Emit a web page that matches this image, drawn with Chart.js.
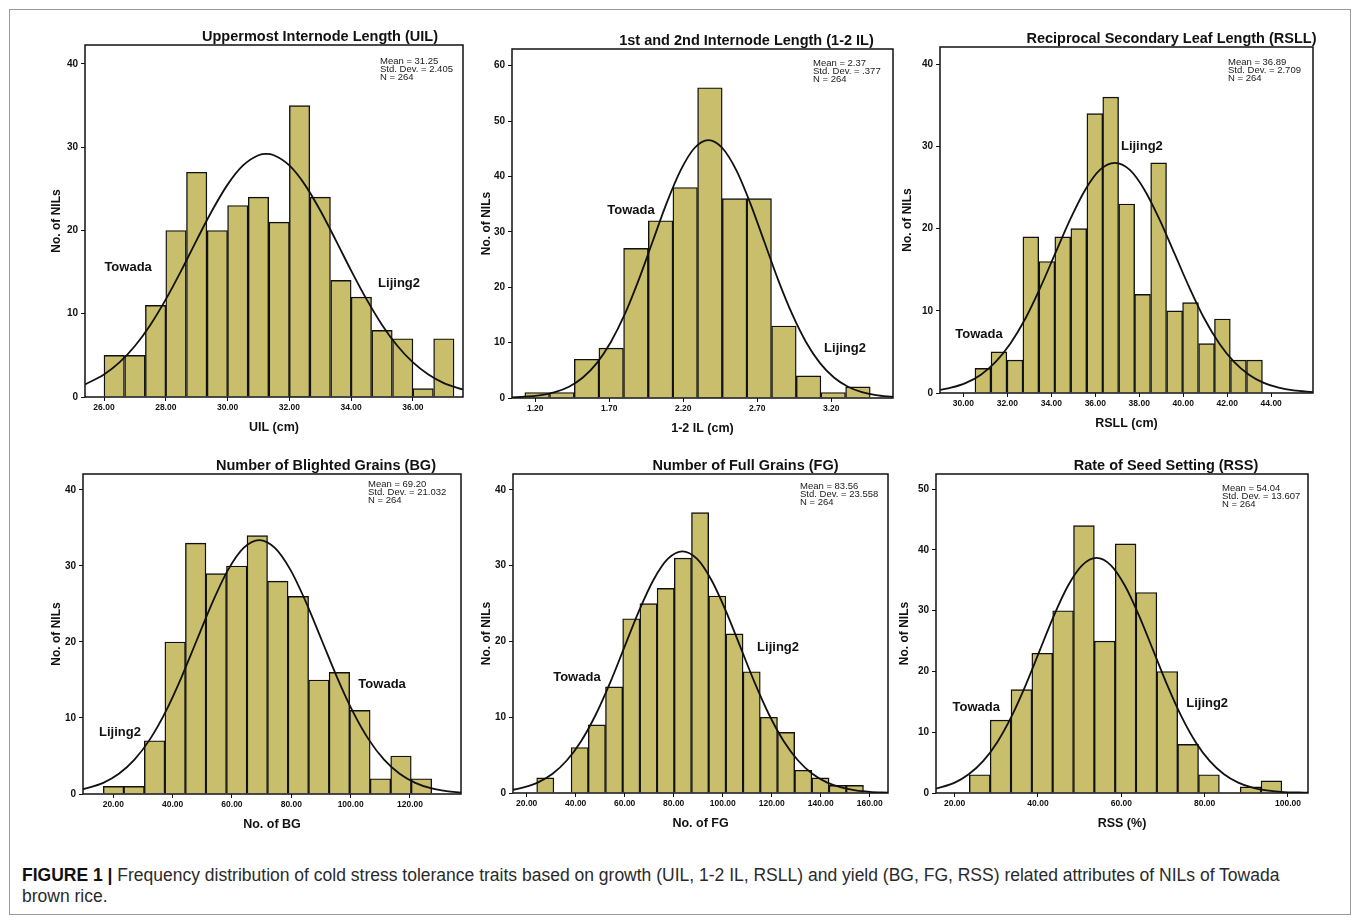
<!DOCTYPE html>
<html>
<head>
<meta charset="utf-8">
<script src="https://cdn.jsdelivr.net/npm/chart.js@4.4.1/dist/chart.umd.min.js"></script>
<style>
  html, body { margin: 0; padding: 0; background: #fff; }
  body { width: 1355px; height: 918px; position: relative; overflow: hidden;
         font-family: "Liberation Sans", Arial, sans-serif; }
  #border { position: absolute; left: 9px; top: 9px; width: 1342px; height: 906px;
            border: 1px solid #9a9a9a; box-sizing: border-box; }
  canvas.panel { position: absolute; }
  #caption { position: absolute; left: 22px; top: 865px; font-size: 17.5px; line-height: 21px; color: #2a2a2a; }
  #caption b { color: #111; }
</style>
</head>
<body>
<div id="border"></div>
<div id="caption"><b>FIGURE 1 |</b> Frequency distribution of cold stress tolerance traits based on growth (UIL, 1-2 IL, RSLL) and yield (BG, FG, RSS) related attributes of NILs of Towada<br>brown rice.</div>

<script>
// ---- data ----
// UIL
const uilBins = [26.33, 27.00, 27.67, 28.33, 29.00, 29.67, 30.33, 31.00, 31.67, 32.33, 33.00, 33.67, 34.33, 35.00, 35.67, 36.33, 37.00];
const uilCounts = [5, 5, 11, 20, 27, 20, 23, 24, 21, 35, 24, 14, 12, 8, 7, 1, 7];
const uilCurveX = [25.39, 26.0, 26.5, 27.0, 27.5, 28.0, 28.5, 29.0, 29.5, 30.0, 30.5, 31.0, 31.25, 31.5, 32.0, 32.5, 33.0, 33.5, 34.0, 34.5, 35.0, 35.5, 36.0, 36.5, 37.0, 37.62];
const uilCurveY = [1.52, 2.70, 4.15, 6.13, 8.66, 11.72, 15.18, 18.85, 22.40, 25.51, 27.81, 29.04, 29.2, 29.04, 27.81, 25.51, 22.40, 18.85, 15.18, 11.72, 8.66, 6.13, 4.15, 2.70, 1.67, 0.90];
const uilXTicks = [26, 28, 30, 32, 34, 36];
const uilYTicks = [0, 10, 20, 30, 40];

// 1-2 IL
const ilBins = [1.213, 1.380, 1.547, 1.713, 1.880, 2.047, 2.213, 2.380, 2.547, 2.713, 2.880, 3.047, 3.213, 3.380];
const ilCounts = [1, 1, 7, 9, 27, 32, 38, 56, 36, 36, 13, 4, 1, 2];
const ilCurveX = [1.043, 1.239, 1.333, 1.428, 1.522, 1.616, 1.710, 1.805, 1.899, 1.993, 2.087, 2.182, 2.276, 2.37, 2.464, 2.559, 2.653, 2.747, 2.841, 2.936, 3.030, 3.124, 3.218, 3.313, 3.407, 3.501, 3.617];
const ilCurveY = [0.09, 0.52, 1.06, 2.04, 3.71, 6.30, 10.07, 15.12, 21.32, 28.24, 35.14, 41.09, 45.13, 46.56, 45.13, 41.09, 35.14, 28.24, 21.32, 15.12, 10.07, 6.30, 3.71, 2.04, 1.06, 0.52, 0.19];
const ilXTicks = [1.2, 1.7, 2.2, 2.7, 3.2];
const ilYTicks = [0, 10, 20, 30, 40, 50, 60];

// RSLL
const rsllBins = [30.89, 31.62, 32.35, 33.07, 33.80, 34.52, 35.25, 35.98, 36.70, 37.43, 38.15, 38.88, 39.61, 40.33, 41.06, 41.78, 42.51, 43.24];
const rsllCounts = [3, 5, 4, 19, 16, 19, 20, 34, 36, 23, 12, 28, 10, 11, 6, 9, 4, 4];
const rsllCurveX = [28.95, 29.44, 30.12, 30.80, 31.47, 32.15, 32.83, 33.50, 34.18, 34.86, 35.54, 36.21, 36.89, 37.57, 38.24, 38.92, 39.60, 40.28, 40.95, 41.63, 42.31, 42.99, 43.66, 44.34, 45.02, 45.91];
const rsllCurveY = [0.38, 0.64, 1.23, 2.23, 3.79, 6.06, 9.09, 12.82, 16.98, 21.13, 24.71, 27.14, 28.0, 27.14, 24.71, 21.13, 16.98, 12.82, 9.09, 6.06, 3.79, 2.23, 1.23, 0.64, 0.31, 0.11];
const rsllXTicks = [30, 32, 34, 36, 38, 40, 42, 44];
const rsllYTicks = [0, 10, 20, 30, 40];

// BG
const bgBins = [20.09, 27.01, 33.93, 40.85, 47.77, 54.69, 61.61, 68.53, 75.45, 82.37, 89.29, 96.21, 103.13, 110.05, 116.97, 123.89];
const bgCounts = [1, 1, 7, 20, 33, 29, 30, 34, 28, 26, 15, 16, 11, 2, 5, 2];
const bgCurveX = [9.79, 16.62, 21.88, 27.14, 32.39, 37.65, 42.91, 48.17, 53.43, 58.68, 63.94, 69.2, 74.46, 79.72, 84.97, 90.23, 95.49, 100.75, 106.01, 111.26, 116.52, 121.78, 127.04, 132.3, 137.13];
const bgCurveY = [0.62, 1.47, 2.66, 4.52, 7.22, 10.84, 15.29, 20.26, 25.21, 29.48, 32.37, 33.4, 32.37, 29.48, 25.21, 20.26, 15.29, 10.84, 7.22, 4.52, 2.66, 1.47, 0.76, 0.37, 0.18];
const bgXTicks = [20, 40, 60, 80, 100, 120];
const bgYTicks = [0, 10, 20, 30, 40];

// FG
const fgBins = [27.59, 34.61, 41.63, 48.65, 55.67, 62.69, 69.71, 76.73, 83.75, 90.77, 97.79, 104.81, 111.83, 118.85, 125.87, 132.89, 139.91, 146.93, 153.95];
const fgCounts = [2, 0, 6, 9, 14, 23, 25, 27, 31, 37, 26, 21, 16, 10, 8, 3, 2, 1, 1];
const fgCurveX = [14.4, 18.77, 24.67, 30.55, 36.44, 42.33, 48.22, 54.11, 60.0, 65.89, 71.78, 77.67, 83.56, 89.45, 95.34, 101.23, 107.12, 113.01, 118.90, 124.79, 130.68, 136.57, 142.46, 148.35, 154.23, 160.12, 167.5];
const fgCurveY = [0.43, 0.73, 1.40, 2.54, 4.32, 6.90, 10.36, 14.60, 19.35, 24.08, 28.15, 30.92, 31.9, 30.92, 28.15, 24.08, 19.35, 14.60, 10.36, 6.90, 4.32, 2.54, 1.40, 0.73, 0.35, 0.16, 0.06];
const fgXTicks = [20, 40, 60, 80, 100, 120, 140, 160];
const fgYTicks = [0, 10, 20, 30, 40];

// RSS
const rssBins = [26.03, 31.03, 36.03, 41.03, 46.03, 51.03, 56.03, 61.03, 66.03, 71.03, 76.03, 81.03, 86.03, 91.03, 96.03];
const rssCounts = [3, 12, 17, 23, 30, 44, 25, 41, 33, 20, 8, 3, 0, 1, 2];
const rssCurveX = [15.53, 20.02, 23.38, 26.83, 30.23, 33.63, 37.03, 40.43, 43.83, 47.24, 50.64, 54.04, 57.44, 60.84, 64.25, 67.65, 71.05, 74.45, 77.85, 81.25, 84.65, 88.06, 91.46, 94.86, 98.26, 104.8];
const rssCurveY = [0.70, 1.70, 3.08, 5.24, 8.37, 12.57, 17.72, 23.47, 29.21, 34.15, 37.51, 38.7, 37.51, 34.15, 29.21, 23.47, 17.72, 12.57, 8.37, 5.24, 3.08, 1.70, 0.88, 0.43, 0.20, 0.04];
const rssXTicks = [20, 40, 60, 80, 100];
const rssYTicks = [0, 10, 20, 30, 40, 50];

// ---- layout ----
const PAD_L = 45, PAD_R = 16, PAD_T = 24, PAD_B = 42;
const BAR_FILL = "#c9be6c";
const INK = "#111";
const FONT = '"Liberation Sans", Arial, sans-serif';

Chart.defaults.font.family = FONT;
Chart.defaults.color = INK;

const panels = [
  { frame: [85, 45, 463, 397], xMin: 25.385, xMax: 37.62, yMax: 42.28,
    bins: uilBins, counts: uilCounts, cx: uilCurveX, cy: uilCurveY, xTicks: uilXTicks, yTicks: uilYTicks,
    title: "Uppermost Internode Length (UIL)", titleDx: 46, xTitle: "UIL (cm)", yGap: 28,
    stats: ["Mean = 31.25", "Std. Dev. = 2.405", "N = 264"], statsDx: 83, statsDy: 16,
    labels: [{ text: "Towada", x: 26.78, y: 15.6 }, { text: "Lijing2", x: 35.55, y: 13.7 }] },
  { frame: [512, 49, 893, 398], xMin: 1.043, xMax: 3.617, yMax: 63.0,
    bins: ilBins, counts: ilCounts, cx: ilCurveX, cy: ilCurveY, xTicks: ilXTicks, yTicks: ilYTicks,
    title: "1st and 2nd Internode Length (1-2 IL)", titleDx: 44, xTitle: "1-2 IL (cm)", yGap: 25,
    stats: ["Mean = 2.37", "Std. Dev. = .377", "N = 264"], statsDx: 80, statsDy: 14,
    labels: [{ text: "Towada", x: 1.847, y: 33.8 }, { text: "Lijing2", x: 3.293, y: 9.0 }] },
  { frame: [940, 47, 1313, 393], xMin: 28.94, xMax: 45.9, yMax: 42.1,
    bins: rsllBins, counts: rsllCounts, cx: rsllCurveX, cy: rsllCurveY, xTicks: rsllXTicks, yTicks: rsllYTicks,
    title: "Reciprocal Secondary Leaf Length (RSLL)", titleDx: 45, xTitle: "RSLL (cm)", yGap: 32,
    stats: ["Mean = 36.89", "Std. Dev. = 2.709", "N = 264"], statsDx: 85, statsDy: 15,
    labels: [{ text: "Lijing2", x: 38.12, y: 30.0 }, { text: "Towada", x: 30.71, y: 7.1 }] },
  { frame: [83, 474, 461, 794], xMin: 9.79, xMax: 137.2, yMax: 42.1,
    bins: bgBins, counts: bgCounts, cx: bgCurveX, cy: bgCurveY, xTicks: bgXTicks, yTicks: bgYTicks,
    title: "Number of Blighted Grains (BG)", titleDx: 54, xTitle: "No. of BG", yGap: 26,
    stats: ["Mean = 69.20", "Std. Dev. = 21.032", "N = 264"], statsDx: 93, statsDy: 10,
    labels: [{ text: "Lijing2", x: 22.26, y: 8.05 }, { text: "Towada", x: 110.6, y: 14.4 }] },
  { frame: [513, 474, 888, 793], xMin: 14.41, xMax: 167.47, yMax: 42.1,
    bins: fgBins, counts: fgCounts, cx: fgCurveX, cy: fgCurveY, xTicks: fgXTicks, yTicks: fgYTicks,
    title: "Number of Full Grains (FG)", titleDx: 45, xTitle: "No. of FG", yGap: 26,
    stats: ["Mean = 83.56", "Std. Dev. = 23.558", "N = 264"], statsDx: 88, statsDy: 12,
    labels: [{ text: "Towada", x: 40.5, y: 15.2 }, { text: "Lijing2", x: 122.6, y: 19.2 }] },
  { frame: [936, 474, 1308, 793], xMin: 15.53, xMax: 104.8, yMax: 52.5,
    bins: rssBins, counts: rssCounts, cx: rssCurveX, cy: rssCurveY, xTicks: rssXTicks, yTicks: rssYTicks,
    title: "Rate of Seed Setting (RSS)", titleDx: 44, xTitle: "RSS (%)", yGap: 31,
    stats: ["Mean = 54.04", "Std. Dev. = 13.607", "N = 264"], statsDx: 86, statsDy: 14,
    labels: [{ text: "Towada", x: 25.2, y: 14.1 }, { text: "Lijing2", x: 80.6, y: 14.8 }] }
];

// frame box, title, stats block and the Towada / Lijing2 notes
const decorPlugin = {
  id: "decor",
  afterDatasetsDraw(chart, args, opts) {
    const { ctx, chartArea: a, scales } = chart;
    ctx.save();
    ctx.strokeStyle = INK;
    ctx.lineWidth = 1.5;
    ctx.strokeRect(a.left, a.top, a.right - a.left, a.bottom - a.top);

    ctx.fillStyle = INK;
    ctx.textAlign = "center";
    ctx.textBaseline = "middle";
    ctx.font = "bold 14.5px " + FONT;
    ctx.fillText(opts.title, (a.left + a.right) / 2 + opts.titleDx, a.top - 8.5);

    ctx.font = "bold 13px " + FONT;
    opts.labels.forEach((l) => {
      ctx.fillText(l.text, scales.x.getPixelForValue(l.x), scales.y.getPixelForValue(l.y));
    });

    ctx.fillStyle = "#1a1a1a";
    ctx.textAlign = "left";
    ctx.font = "9.5px " + FONT;
    opts.stats.forEach((s, i) => {
      ctx.fillText(s, a.right - opts.statsDx, a.top + opts.statsDy + i * 8);
    });
    ctx.restore();
  }
};

function makePanel(p) {
  const [fl, ft, fr, fb] = p.frame;
  const canvas = document.createElement("canvas");
  const w = fr - fl + PAD_L + PAD_R;
  const h = fb - ft + PAD_T + PAD_B;
  canvas.className = "panel";
  canvas.width = w;
  canvas.height = h;
  canvas.style.left = (fl - PAD_L) + "px";
  canvas.style.top = (ft - PAD_T) + "px";
  canvas.style.width = w + "px";
  canvas.style.height = h + "px";
  document.body.appendChild(canvas);

  new Chart(canvas, {
    type: "bar",
    data: {
      datasets: [
        {
          type: "line",
          data: p.cx.map((x, i) => ({ x, y: p.cy[i] })),
          borderColor: INK,
          borderWidth: 1.8,
          pointRadius: 0,
          cubicInterpolationMode: "monotone",
          fill: false,
          order: 0
        },
        {
          type: "bar",
          data: p.bins.map((x, i) => ({ x, y: p.counts[i] })),
          backgroundColor: BAR_FILL,
          borderColor: INK,
          borderWidth: 1.4,
          borderSkipped: "bottom",
          barPercentage: 1,
          categoryPercentage: 1,
          order: 1
        }
      ]
    },
    options: {
      responsive: false,
      animation: false,
      devicePixelRatio: 1,
      layout: { padding: { top: PAD_T, right: PAD_R, left: 0, bottom: 0 } },
      plugins: {
        legend: { display: false },
        tooltip: { enabled: false },
        decor: { title: p.title, titleDx: p.titleDx, stats: p.stats, statsDx: p.statsDx, statsDy: p.statsDy, labels: p.labels }
      },
      scales: {
        x: {
          type: "linear",
          min: p.xMin,
          max: p.xMax,
          offset: false,
          afterBuildTicks: (s) => { s.ticks = p.xTicks.map((v) => ({ value: v })); },
          afterFit: (s) => { s.height = PAD_B; },
          ticks: { autoSkip: false, maxRotation: 0, padding: 2, color: INK,
                   font: { size: 8.5, weight: "bold" }, callback: (v) => Number(v).toFixed(2) },
          grid: { display: true, drawOnChartArea: false, drawTicks: true, tickLength: 4, color: INK, offset: false },
          border: { display: false },
          title: { display: true, text: p.xTitle, color: INK, font: { size: 12.5, weight: "bold" },
                   padding: { top: 0, bottom: 3.5 } }
        },
        y: {
          min: 0,
          max: p.yMax,
          afterBuildTicks: (s) => { s.ticks = p.yTicks.map((v) => ({ value: v })); },
          afterFit: (s) => { s.width = PAD_L; },
          ticks: { padding: 3, color: INK, font: { size: 10, weight: "bold" } },
          grid: { display: true, drawOnChartArea: false, drawTicks: true, tickLength: 4, color: INK },
          border: { display: false },
          title: { display: true, text: "No. of NILs", color: INK, font: { size: 12, weight: "bold" },
                   padding: { top: PAD_L - p.yGap - 7.2, bottom: 0 } }
        }
      }
    },
    plugins: [decorPlugin]
  });
}

panels.forEach(makePanel);
</script>
</body>
</html>
